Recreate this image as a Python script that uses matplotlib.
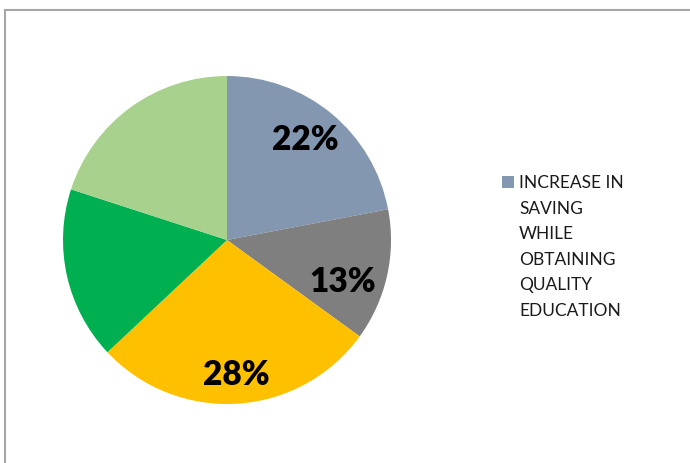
import matplotlib
matplotlib.use("Agg")
import matplotlib.pyplot as plt
from matplotlib.lines import Line2D
from matplotlib.patches import Rectangle

# slice values (percent), clockwise from 12 o'clock
values = [22, 13, 28, 17, 20]
colors = ["#8497B0", "#7F7F7F", "#FFC000", "#00B050", "#A9D18E"]
# value labels are only drawn on the first three slices, at these spots (pie radius units)
label_pos = [(0.476, 0.61), (0.707, -0.256), (0.055, -0.823)]
legend_label = "INCREASE IN\nSAVING\nWHILE\nOBTAINING\nQUALITY\nEDUCATION"

W, H = 690, 463
fig = plt.figure(figsize=(W / 100, H / 100), dpi=100)

# pie centre and radius in pixels
cx, cy, r = 227, 240, 164
ax = fig.add_axes([(cx - r) / W, (H - cy - r) / H, 2 * r / W, 2 * r / H])

wedges, texts, autotexts = ax.pie(
    values, colors=colors, startangle=90, counterclock=False,
    autopct=lambda p: f"{p:.0f}%",
    wedgeprops=dict(linewidth=0),
    textprops=dict(fontsize=24, fontweight="heavy", family="Lato", color="black"),
)
for i, t in enumerate(autotexts):
    if i < len(label_pos):
        t.set_position(label_pos[i])
    else:
        t.set_visible(False)
ax.set_xlim(-1, 1)
ax.set_ylim(-1, 1)
ax.set_aspect("equal")

# legend: single swatch for the first slice, multi-line label beside it
fig.add_artist(Rectangle((502 / W, 1 - 188 / H), 12 / W, 12 / H,
                         facecolor=wedges[0].get_facecolor(), edgecolor="none",
                         transform=fig.transFigure))
fig.text(519 / W, 1 - 175 / H, legend_label, ha="left", va="top",
         family="Lato", fontsize=12.5, linespacing=1.74, color="#1A1A1A")

# chart frame: top and left edges
fig.add_artist(Line2D([5 / W, 1], [1 - 10 / H, 1 - 10 / H], color="#A6A6A6", lw=1.5))
fig.add_artist(Line2D([5 / W, 5 / W], [0, 1 - 10 / H], color="#A6A6A6", lw=1.5))

fig.savefig("out.png", dpi=100)
